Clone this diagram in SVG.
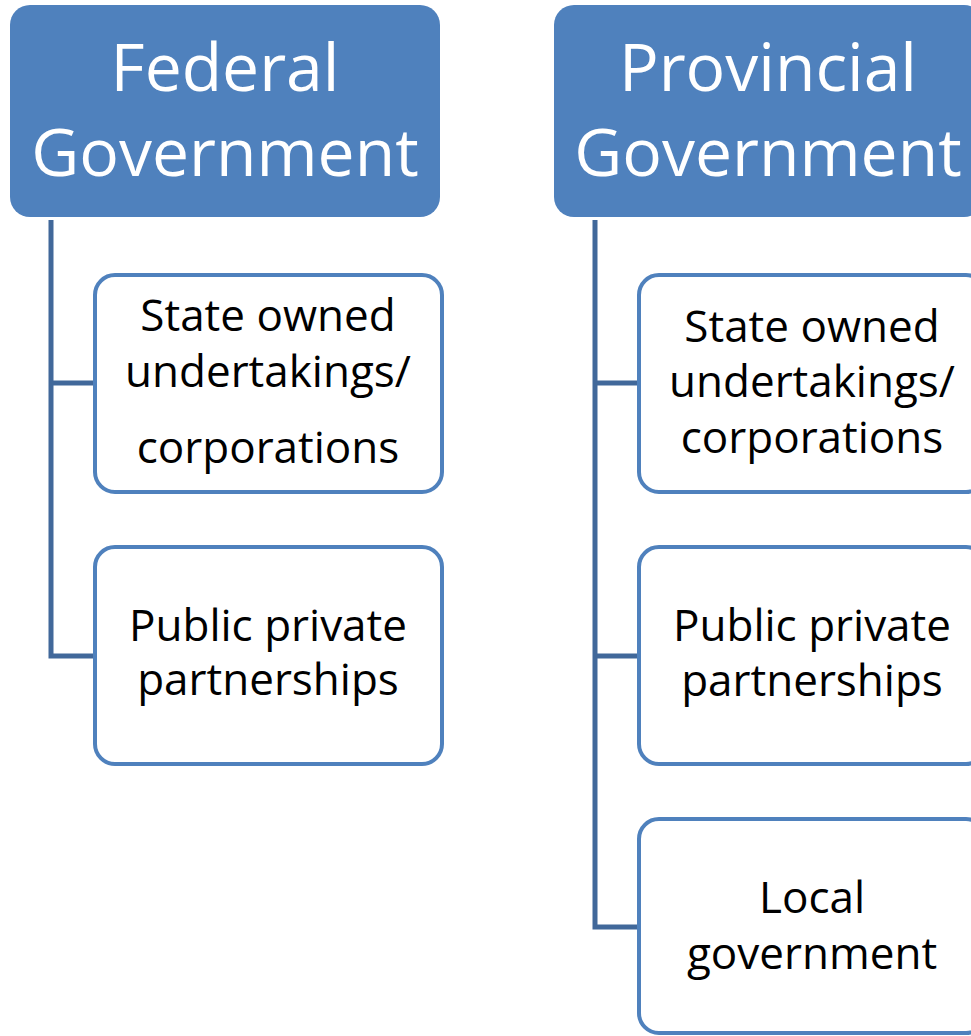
<svg xmlns="http://www.w3.org/2000/svg" width="971" height="1036" viewBox="0 0 971 1036">
<style>
.head rect{fill:#4f81bd;}
.head text{fill:#ffffff;font-family:"Open Sans","Noto Sans",sans-serif;font-size:66px;text-anchor:middle;}
.child rect{fill:#ffffff;stroke:#4f81bd;stroke-width:4;}
.child text{fill:#000000;font-family:"Open Sans","Noto Sans",sans-serif;font-size:44px;text-anchor:middle;}
.conn path{fill:none;stroke:#41689a;stroke-width:5;stroke-linejoin:miter;}
</style>
<rect width="971" height="1036" fill="#ffffff"/>
<g class="conn" id="connectors">
<path d="M51,220 V656 H94 M51,383 H94"/>
<path d="M595,220 V927 H639 M595,383 H639 M595,656 H639"/>
</g>
<g class="head" id="federal">
<rect x="10" y="5" width="430" height="212" rx="20"/>
<text x="225" y="91">Federal</text>
<text x="225" y="176">Government</text>
</g>
<g class="head" id="provincial">
<rect x="554" y="5" width="430" height="212" rx="20"/>
<text x="768" y="91">Provincial</text>
<text x="768" y="176">Government</text>
</g>
<g class="child" id="fed-soe">
<rect x="95" y="275" width="347" height="217" rx="20"/>
<text x="268" y="331">State owned</text>
<text x="268" y="387">undertakings/</text>
<text x="268" y="463">corporations</text>
</g>
<g class="child" id="fed-ppp">
<rect x="95" y="547" width="347" height="217" rx="20"/>
<text x="268" y="641">Public private</text>
<text x="268" y="695">partnerships</text>
</g>
<g class="child" id="prov-soe">
<rect x="639" y="275" width="347" height="217" rx="20"/>
<text x="812" y="342">State owned</text>
<text x="812" y="397">undertakings/</text>
<text x="812" y="453">corporations</text>
</g>
<g class="child" id="prov-ppp">
<rect x="639" y="547" width="347" height="217" rx="20"/>
<text x="812" y="641">Public private</text>
<text x="812" y="696">partnerships</text>
</g>
<g class="child" id="prov-local">
<rect x="639" y="819" width="347" height="214" rx="20"/>
<text x="812" y="913">Local</text>
<text x="812" y="969">government</text>
</g>
</svg>
